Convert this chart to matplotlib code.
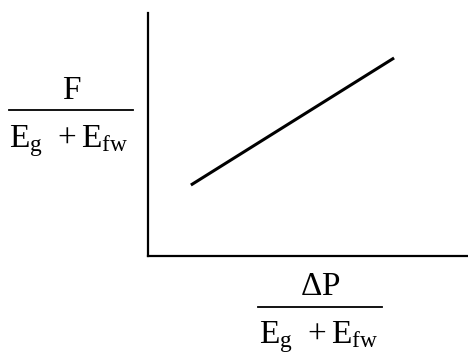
import numpy as np
import matplotlib
matplotlib.use("Agg")
import matplotlib.pyplot as plt
from matplotlib.lines import Line2D

plt.rcParams['font.family'] = ['Liberation Serif', 'DejaVu Serif']
plt.rcParams['mathtext.fontset'] = 'custom'
plt.rcParams['mathtext.rm'] = 'Liberation Serif'
plt.rcParams['mathtext.it'] = 'Liberation Serif:italic'

# straight line (axis units 0..10)
x_vals = [1.34, 7.69]
y_vals = [2.92, 8.15]

y_num = 'F'
y_den = r'$\mathrm{E}_{\mathrm{g}}\;\, + \mathrm{E}_{\mathrm{fw}}$'
x_num = r'$\Delta\mathrm{P}$'
x_den = r'$\mathrm{E}_{\mathrm{g}}\;\, + \mathrm{E}_{\mathrm{fw}}$'

W, H = 468, 355
fig = plt.figure(figsize=(W / 100, H / 100), dpi=100)
ax = fig.add_axes([148 / W, (H - 256) / H, 320 / W, 243 / H])

ax.plot(x_vals, y_vals, color='black', lw=2.2, solid_capstyle='butt')
ax.set_xlim(0, 10)
ax.set_ylim(0, 10)
ax.spines['top'].set_visible(False)
ax.spines['right'].set_visible(False)
for s in ('left', 'bottom'):
    ax.spines[s].set_linewidth(1.6)
ax.set_xticks([])
ax.set_yticks([])

fs = 24

# y label as a fraction
fig.text(71 / W, 1 - 99 / H, y_num, ha='center', va='baseline', fontsize=fs)
fig.add_artist(Line2D([9 / W, 133 / W], [1 - 110 / H] * 2, color='black', lw=1.3))
fig.text(69 / W, 1 - 147 / H, y_den, ha='center', va='baseline', fontsize=fs)

# x label as a fraction
fig.text(320 / W, 1 - 295 / H, x_num, ha='center', va='baseline', fontsize=fs)
fig.add_artist(Line2D([258 / W, 382 / W], [1 - 307 / H] * 2, color='black', lw=1.3))
fig.text(319 / W, 1 - 343 / H, x_den, ha='center', va='baseline', fontsize=fs)

fig.savefig('out.png', dpi=100, facecolor='white')
